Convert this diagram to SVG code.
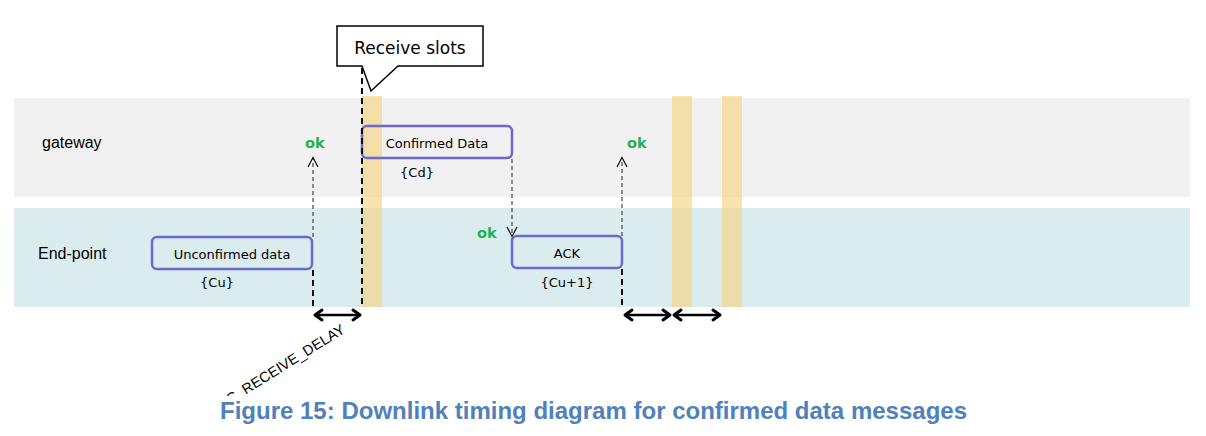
<svg xmlns="http://www.w3.org/2000/svg" width="1206" height="436" viewBox="0 0 1206 436">
<style>
.lane-label{font-family:"Liberation Sans",Arial,sans-serif;font-size:16px;fill:#000}
.box{fill:none;stroke:#6a6acd;stroke-width:2.5}
.btxt{font-family:"DejaVu Sans",Verdana,sans-serif;font-size:13px;fill:#000;text-anchor:middle}
.ok{font-family:"DejaVu Sans",Verdana,sans-serif;font-size:14.5px;font-weight:bold;fill:#1fb150}
.slot{fill:#f5d27a;opacity:0.6}
.thin{stroke:#333;stroke-width:1.1;stroke-dasharray:4 3;fill:none}
.thick{stroke:#111;stroke-width:2;stroke-dasharray:6 4;fill:none}
.dbl{stroke:#000;stroke-width:2.5;fill:none}
.head{stroke:#000;stroke-width:1.1;fill:none}
.dhead{stroke:#000;stroke-width:3;fill:none;stroke-linecap:round;stroke-linejoin:round}
</style>
<defs>
<clipPath id="clipDelay"><rect x="0" y="0" width="1206" height="396"/></clipPath>
</defs>
<rect width="1206" height="436" fill="#fff"/>
<g id="lanes">
<rect id="lane-gateway" x="14" y="98" width="1176" height="99" fill="#f1f1f1"/>
<rect id="lane-endpoint" x="14" y="208" width="1176" height="99" fill="#dbecef"/>
<text class="lane-label" x="42" y="148">gateway</text>
<text class="lane-label" x="38" y="259">End-point</text>
</g>
<g id="slots">
<rect class="slot" x="362" y="96" width="20" height="211"/>
<rect class="slot" x="672" y="96" width="20" height="211"/>
<rect class="slot" x="722" y="96" width="20" height="211"/>
</g>
<g id="node-unconfirmed">
<rect class="box" x="152" y="237" width="160" height="32" rx="5"/>
<text class="btxt" x="232" y="259">Unconfirmed data</text>
<text class="btxt" x="217" y="287">{Cu}</text>
</g>
<g id="node-confirmed">
<rect class="box" x="362" y="126" width="150" height="32" rx="5"/>
<text class="btxt" x="437" y="148">Confirmed Data</text>
<text class="btxt" x="417" y="177">{Cd}</text>
</g>
<g id="node-ack">
<rect class="box" x="512" y="236" width="110" height="32" rx="5"/>
<text class="btxt" x="567" y="258">ACK</text>
<text class="btxt" x="567" y="287">{Cu+1}</text>
</g>
<g id="ok-labels">
<text class="ok" x="305" y="148">ok</text>
<text class="ok" x="477" y="238">ok</text>
<text class="ok" x="627" y="148">ok</text>
</g>
<g id="connectors">
<line class="thick" x1="313" y1="270" x2="313" y2="307"/>
<line class="thick" x1="362" y1="68" x2="362" y2="307"/>
<line class="thick" x1="622" y1="269" x2="622" y2="307"/>
<line class="thin" x1="313" y1="237" x2="313" y2="158"/>
<polyline class="head" points="308,167 313,157.5 318,167"/>
<line class="thin" x1="512" y1="159" x2="512" y2="236"/>
<polyline class="head" points="507,227 512,236.5 517,227"/>
<line class="thin" x1="622" y1="236" x2="622" y2="158"/>
<polyline class="head" points="617,167 622,157.5 627,167"/>
<line class="dbl" x1="315" y1="315" x2="360" y2="315"/>
<polyline class="dhead" points="322,310 315,315 322,320"/>
<polyline class="dhead" points="353,310 360,315 353,320"/>
<line class="dbl" x1="625" y1="315" x2="670" y2="315"/>
<polyline class="dhead" points="632,310 625,315 632,320"/>
<polyline class="dhead" points="663,310 670,315 663,320"/>
<line class="dbl" x1="674" y1="315" x2="720" y2="315"/>
<polyline class="dhead" points="681,310 674,315 681,320"/>
<polyline class="dhead" points="713,310 720,315 713,320"/>
</g>
<g id="callout">
<path d="M337,26 H483 V66 H398 L371,91 L362,66 H337 Z" fill="#fff" stroke="#000" stroke-width="1.5" stroke-linejoin="miter"/>
<text x="410" y="54" font-family="DejaVu Sans, Verdana, sans-serif" font-size="17" text-anchor="middle" fill="#000">Receive slots</text>
</g>
<g id="delay-label" clip-path="url(#clipDelay)">
<text transform="translate(346,332) rotate(-32)" font-family="Liberation Sans, Arial, sans-serif" font-size="14.5" text-anchor="end" fill="#000">C_RECEIVE_DELAY</text>
</g>
<text id="caption" x="220" y="419" font-family="Liberation Sans, Arial, sans-serif" font-size="24" font-weight="bold" fill="#4f81bd" textLength="747" lengthAdjust="spacingAndGlyphs">Figure 15: Downlink timing diagram for confirmed data messages</text>
</svg>
